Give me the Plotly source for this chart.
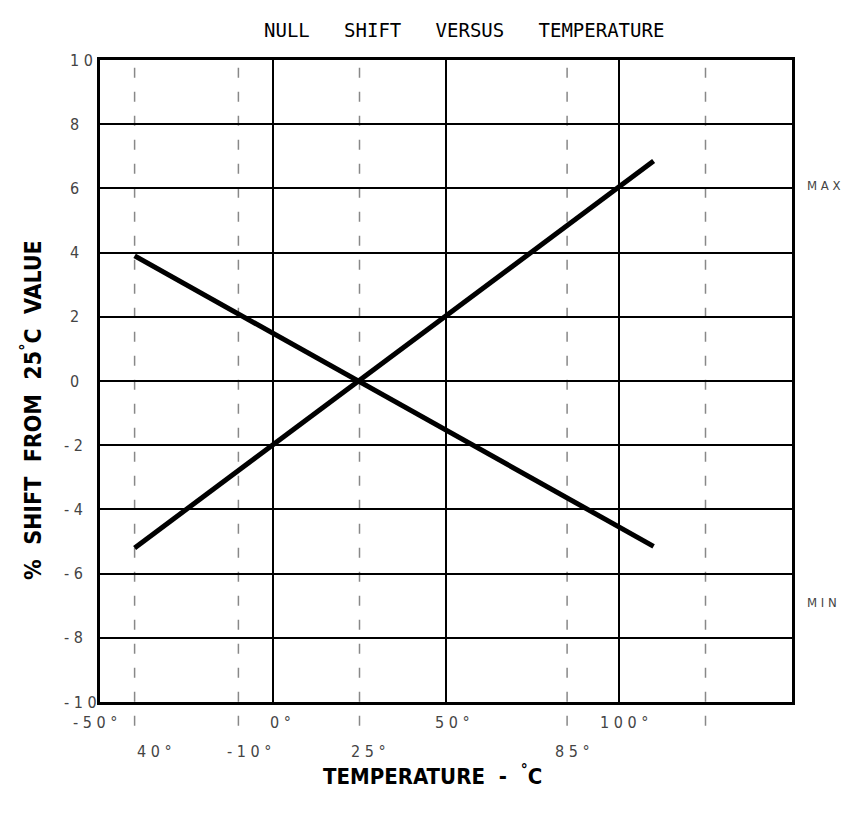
import plotly.graph_objects as go

# data
max_temp = [-40, 110]
max_shift = [-5.2, 6.85]
min_temp = [-40, 110]
min_shift = [3.9, -5.15]

y_ticks = [10, 8, 6, 4, 2, 0, -2, -4, -6, -8, -10]
y_tick_text = ["1 0", "8", "6", "4", "2", "0", "- 2", "- 4", "- 6", "- 8", "- 1 0"]
x_major = [-50, 0, 50, 100]
x_major_text = ["- 5 0 °", "0 °", "5 0 °", "1 0 0 °"]
x_minor = [-40, -10, 25, 85, 125]
x_minor_label_pos = [-40, -10, 25, 85]
x_minor_text = ["4 0 °", "- 1 0 °", "2 5 °", "8 5 °"]

FONT = "DejaVu Sans Condensed, Liberation Sans, sans-serif"
PW, PH = 692, 642  # plot area size in px

fig = go.Figure()
fig.add_trace(go.Scatter(x=max_temp, y=max_shift, mode="lines",
                         line=dict(color="black", width=5), showlegend=False))
fig.add_trace(go.Scatter(x=min_temp, y=min_shift, mode="lines",
                         line=dict(color="black", width=5), showlegend=False))

shapes = []
for xv in x_minor:
    shapes.append(dict(type="line", xref="x", yref="paper", x0=xv, x1=xv, y0=-0.037, y1=1,
                       line=dict(color="#888888", width=1.5, dash="10px,14px"), layer="below"))

annotations = []
for yv, t in zip(y_ticks, y_tick_text):
    neg = yv < 0
    annotations.append(dict(x=((62 - 100) / PW if neg else (68 - 100) / PW),
                            xref="paper", y=yv, yref="y", text=t, showarrow=False,
                            xanchor="left", yanchor="middle",
                            font=dict(family=FONT, size=16, color="#444444")))
shifts_major = [-5, 7, 6, 5]
for xv, t, s in zip(x_major, x_major_text, shifts_major):
    annotations.append(dict(x=xv, xref="x", y=-(722 - 702) / PH, yref="paper", text=t,
                            showarrow=False, xanchor="center", yanchor="middle", xshift=s,
                            font=dict(family=FONT, size=16, color="#444444")))
shifts_minor = [20, 11, 9, 5]
for xv, t, s in zip(x_minor_label_pos, x_minor_text, shifts_minor):
    annotations.append(dict(x=xv, xref="x", y=-(751 - 702) / PH, yref="paper", text=t,
                            showarrow=False, xanchor="center", yanchor="middle", xshift=s,
                            font=dict(family=FONT, size=16, color="#444444")))
annotations.append(dict(x=(805 - 100) / PW, xref="paper", y=6.1, yref="y", text="M A X",
                        showarrow=False, xanchor="left", yanchor="middle",
                        font=dict(family=FONT, size=13, color="#444444")))
annotations.append(dict(x=(805 - 100) / PW, xref="paper", y=-6.9, yref="y", text="M I N",
                        showarrow=False, xanchor="left", yanchor="middle",
                        font=dict(family=FONT, size=13, color="#444444")))
annotations.append(dict(x=(464 - 100) / PW, xref="paper", y=(60 - 30) / PH + 1, yref="paper",
                        text="NULL   SHIFT   VERSUS   TEMPERATURE", showarrow=False,
                        xanchor="center", yanchor="middle",
                        font=dict(family="DejaVu Sans Mono, monospace", size=19, color="black")))
annotations.append(dict(x=(432 - 100) / PW, xref="paper", y=-(775 - 702) / PH, yref="paper",
                        text="<b>TEMPERATURE  -  <sup>°</sup>C</b>", showarrow=False,
                        xanchor="center", yanchor="middle",
                        font=dict(family=FONT, size=22, color="black")))
annotations.append(dict(x=-(100 - 31) / PW, xref="paper", y=0.5 - (410 - 381) / PH, yref="paper",
                        text="<b>%  SHIFT  FROM  25<sup>°</sup>C  VALUE</b>", showarrow=False,
                        textangle=-90, xanchor="center", yanchor="middle",
                        font=dict(family=FONT, size=23, color="black")))

fig.update_layout(
    width=841, height=817,
    margin=dict(l=100, r=49, t=60, b=115),
    paper_bgcolor="white", plot_bgcolor="white",
    shapes=shapes, annotations=annotations,
    xaxis=dict(range=[-50, 150], tickvals=[0, 50, 100], showticklabels=False, ticks="",
               showgrid=True, gridcolor="black", gridwidth=2, zeroline=False,
               showline=True, linecolor="black", linewidth=3, mirror=True, fixedrange=True),
    yaxis=dict(range=[-10, 10], tickvals=y_ticks, showticklabels=False, ticks="",
               showgrid=True, gridcolor="black", gridwidth=2, zeroline=False,
               showline=True, linecolor="black", linewidth=3, mirror=True, fixedrange=True),
)

# remove the default page margin so the 841x817 figure fills the window exactly
fig.write_html("out.html", config={"displayModeBar": False},
               post_script="document.body.style.margin='0';document.body.style.overflow='hidden';")
